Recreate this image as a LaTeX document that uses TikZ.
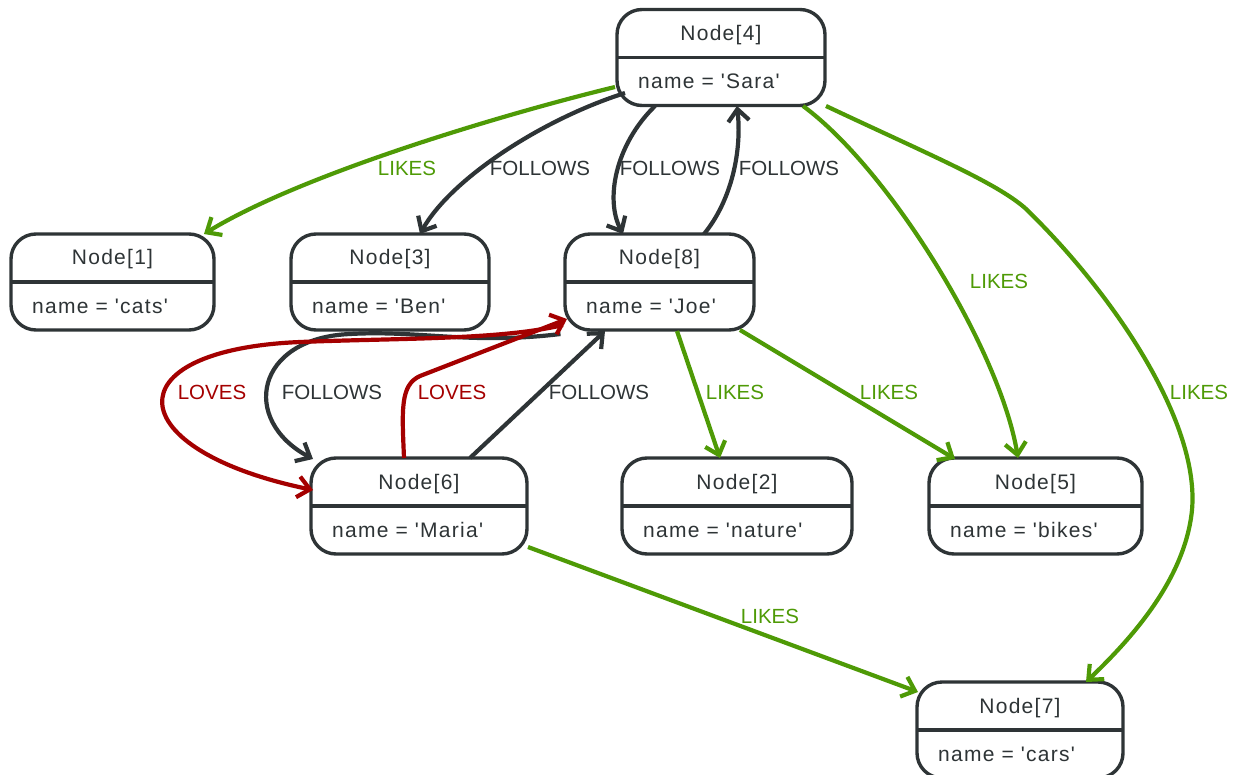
\documentclass[tikz,border=0pt]{standalone}
\usepackage{fontspec}
\setmainfont{Liberation Sans}
\newfontfamily\nodefont[LetterSpace=6]{Liberation Sans}
\usetikzlibrary{arrows.meta,calc}
\definecolor{dk}{HTML}{2E3436}
\definecolor{gr}{HTML}{4E9A06}
\definecolor{rd}{HTML}{A40000}
\newcommand{\gnode}[6]{%
  \node[box,minimum width=#4pt] (#1) at (#2,#3) {};
  \draw[dk,line width=3.4pt] (#1.west) -- (#1.east);
  \node[ttl] (#1t) at ($(#1.center)+(0,-17)$) {#5};
  \node[att] (#1a) at ($(#1.west)+(21,31)$) {#6};
}
\begin{document}
\begin{tikzpicture}[x=1pt,y=-1pt,
  box/.style={draw=dk,fill=white,line width=3.4pt,rounded corners=25pt,minimum height=96pt,inner sep=0pt,outer sep=0pt},
  ttl/.style={anchor=base,text=dk,font=\nodefont\fontsize{21}{25}\selectfont,inner sep=0pt},
  att/.style={anchor=base west,text=dk,font=\nodefont\fontsize{21}{25}\selectfont,inner sep=0pt},
  rel/.style={line width=4.2pt,-{Straight Barb[length=12pt,width=21pt]}},
  fol/.style={rel,draw=dk},
  lik/.style={rel,draw=gr},
  lov/.style={rel,draw=rd},
  lbl/.style={font=\fontsize{20.5}{24}\selectfont,inner sep=0pt},
  flbl/.style={lbl,text=dk},
  glbl/.style={lbl,text=gr},
  rlbl/.style={lbl,text=rd}
]
\useasboundingbox (0,0) rectangle (1241,775);

\gnode{n4}{721}{57.5}{208}{Node[4]}{name = 'Sara'}
\gnode{n1}{112.5}{282}{203}{Node[1]}{name = 'cats'}
\gnode{n3}{390}{282}{198}{Node[3]}{name = 'Ben'}
\gnode{n8}{659.5}{282}{189}{Node[8]}{name = 'Joe'}
\gnode{n6}{419}{506}{216}{Node[6]}{name = 'Maria'}
\gnode{n2}{737}{506}{230}{Node[2]}{name = 'nature'}
\gnode{n5}{1035.5}{506}{213}{Node[5]}{name = 'bikes'}
\gnode{n7}{1020}{730}{206}{Node[7]}{name = 'cars'}

% Sara -> cats
\draw[lik] ($(n4.center)+(-106,29.5)$) .. controls (500,115) and (300,175) .. ($(n1.center)+(91.5,-48)$);
\node[glbl] (l41) at (407,168) {LIKES};
% Sara -> Ben
\draw[fol] ($(n4.center)+(-96,35.5)$) .. controls (540,120) and (450,180) .. ($(n3.center)+(30,-48)$);
\node[flbl] (l43) at (540,168) {FOLLOWS};
% Sara -> Joe
\draw[fol] ($(n4.center)+(-66,48.5)$) .. controls (615,145) and (605,200) .. ($(n8.center)+(-36.5,-48)$);
\node[flbl] (l48) at (670,168) {FOLLOWS};
% Joe -> Sara
\draw[fol] ($(n8.center)+(44.5,-48)$) .. controls (732,200) and (742,150) .. ($(n4.center)+(16,48.5)$);
\node[flbl] (l84) at (789,168) {FOLLOWS};
% Sara -> bikes
\draw[lik] ($(n4.center)+(82,48.5)$) .. controls (890,170) and (1000,350) .. ($(n5.center)+(-17.5,-48)$);
\node[glbl] (l45) at (999,281) {LIKES};
% Sara -> cars
\draw[lik] ($(n4.center)+(105,48.5)$) .. controls (930,155) and (995,182) .. (1025,208)
  .. controls (1110,290) and (1200,420) .. (1192,510)
  .. controls (1185,580) and (1130,640) .. ($(n7.center)+(66,-48)$);
\node[glbl] (l47) at (1199,392) {LIKES};
% Joe -> nature
\draw[lik] ($(n8.center)+(17.5,49)$) -- ($(n2.center)+(-17,-48)$);
\node[glbl] (l82) at (735,392) {LIKES};
% Joe -> bikes
\draw[lik] ($(n8.center)+(80.5,48)$) -- ($(n5.center)+(-80.5,-47)$);
\node[glbl] (l85) at (889,392) {LIKES};
% Maria -> Joe follows
\draw[fol] ($(n6.center)+(51,-48)$) -- ($(n8.center)+(-54.5,49)$);
\node[flbl] (l68f) at (599,392) {FOLLOWS};
% Joe -> Maria follows
\draw[fol] ($(n8.center)+(-99,52)$) .. controls (470,345) and (420,330) .. (350,334)
  .. controls (255,338) and (240,420) .. ($(n6.center)+(-106,-47)$);
\node[flbl] (l86f) at (332,392) {FOLLOWS};
% Joe -> Maria loves
\draw[lov] ($(n8.center)+(-96.5,43)$) .. controls (500,340) and (400,338) .. (300,342)
  .. controls (110,350) and (120,450) .. ($(n6.center)+(-106,-16)$);
\node[rlbl] (l86l) at (212,392) {LOVES};
% Maria -> Joe loves
\draw[lov] ($(n6.center)+(-15,-48)$) .. controls (402,410) and (400,385) .. (420,376) -- ($(n8.center)+(-92.5,37)$);
\node[rlbl] (l68l) at (452,392) {LOVES};
% Maria -> cars
\draw[lik] ($(n6.center)+(109,41)$) -- ($(n7.center)+(-102,-38)$);
\node[glbl] (l67) at (770,616) {LIKES};
\end{tikzpicture}
\end{document}
